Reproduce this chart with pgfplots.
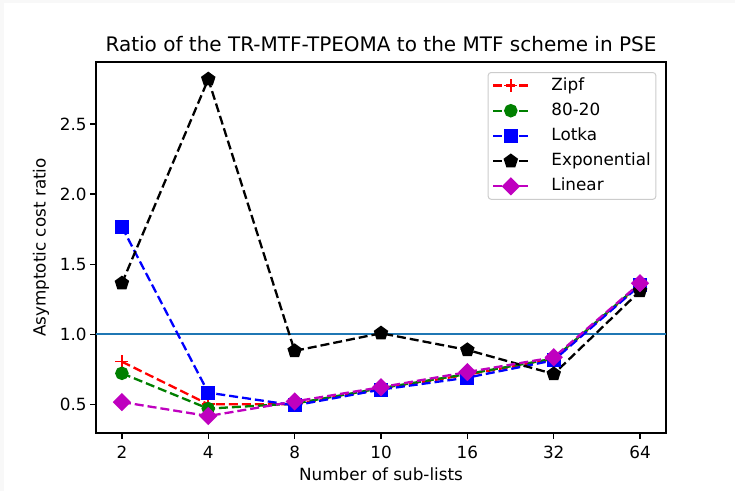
\documentclass[border=0pt]{standalone}
\usepackage{fontspec}
\setmainfont{DejaVu Sans}
\usepackage{pgfplots}
\pgfplotsset{compat=1.18}

\definecolor{refblue}{HTML}{1F77B4}
\definecolor{mgreen}{HTML}{008000}
\definecolor{mmag}{HTML}{BF00BF}
\definecolor{legedge}{HTML}{CCCCCC}
\definecolor{pageedge}{HTML}{F8F8F8}

\begin{document}
\begin{tikzpicture}[x=1pt,y=1pt]
\fill[pageedge] (0,0) rectangle (735,491);
\fill[white] (3.5,0) rectangle (735,487.5);
\begin{axis}[
  at={(96pt,58pt)}, anchor=south west,
  scale only axis, width=570pt, height=371pt,
  xmin=-0.3, xmax=6.3, ymin=0.295, ymax=2.943,
  xtick={0,1,2,3,4,5,6}, xticklabels={2,4,8,10,16,32,64},
  ytick={0.5,1.0,1.5,2.0,2.5},
  /pgf/number format/.cd, fixed, fixed zerofill, precision=1, assume math mode=true,
  /pgfplots/.cd,
  tick align=outside, major tick length=5.9pt,
  xtick pos=bottom, ytick pos=left,
  every tick/.style={black, line width=1.3pt},
  axis line style={line width=1.3pt},
  ticklabel style={font=\fontsize{16.8}{20}\selectfont},
  xticklabel style={anchor=base, yshift=-20pt},
  yticklabel style={anchor=east},
  legend style={at={(0.983,0.973)}, anchor=north east,
    draw=legedge, line width=1pt, rounded corners=3pt, fill=white,
    font=\fontsize{16.8}{20}\selectfont,
    inner xsep=4pt, inner ysep=4pt, row sep=7.2pt,
    /tikz/every odd column/.append style={column sep=21pt},
    nodes={inner sep=1pt, text height=12.5pt, text depth=3.5pt}},
  legend cell align=left,
  legend image code/.code={
    \draw[mark repeat=2, mark phase=2, #1] plot coordinates {(0pt,0pt) (17.5pt,0pt) (35pt,0pt)};
  },
  every axis plot/.append style={line width=2.3pt, dash pattern=on 9pt off 4pt},
]
% reference level: ratio of one
\addplot[refblue, solid, line width=2.4pt, forget plot] coordinates {(-0.3,1) (6.3,1)};

\addplot[red, mark=+, mark size=6.5pt, mark options={solid, line width=1.6pt}]
  coordinates {(0,0.804) (1,0.500) (2,0.500) (3,0.610) (4,0.712) (5,0.822) (6,1.352)};
\addlegendentry{Zipf}
\addplot[mgreen, mark=*, mark size=5.6pt, mark options={solid}]
  coordinates {(0,0.721) (1,0.469) (2,0.505) (3,0.615) (4,0.716) (5,0.826) (6,1.358)};
\addlegendentry{80-20}
\addplot[blue, mark=square*, mark size=5.8pt, mark options={solid}]
  coordinates {(0,1.766) (1,0.583) (2,0.492) (3,0.605) (4,0.690) (5,0.814) (6,1.350)};
\addlegendentry{Lotka}
\addplot[black, mark=pentagon*, mark size=6.2pt, mark options={solid}]
  coordinates {(0,1.364) (1,2.820) (2,0.881) (3,1.007) (4,0.888) (5,0.716) (6,1.309)};
\addlegendentry{Exponential}
\addplot[mmag, mark=square*, mark size=5.3pt, mark options={solid, rotate=45}]
  coordinates {(0,0.516) (1,0.416) (2,0.520) (3,0.622) (4,0.730) (5,0.835) (6,1.364)};
\addlegendentry{Linear}
\end{axis}
\node[anchor=base, font=\fontsize{20}{24}\selectfont] at (381,439) {Ratio of the TR-MTF-TPEOMA to the MTF scheme in PSE};
\node[anchor=base, font=\fontsize{16.8}{20}\selectfont] at (381,11) {Number of sub-lists};
\node[rotate=90, font=\fontsize{16.8}{20}\selectfont] at (41,243.5) {Asymptotic cost ratio};
\end{tikzpicture}
\end{document}
